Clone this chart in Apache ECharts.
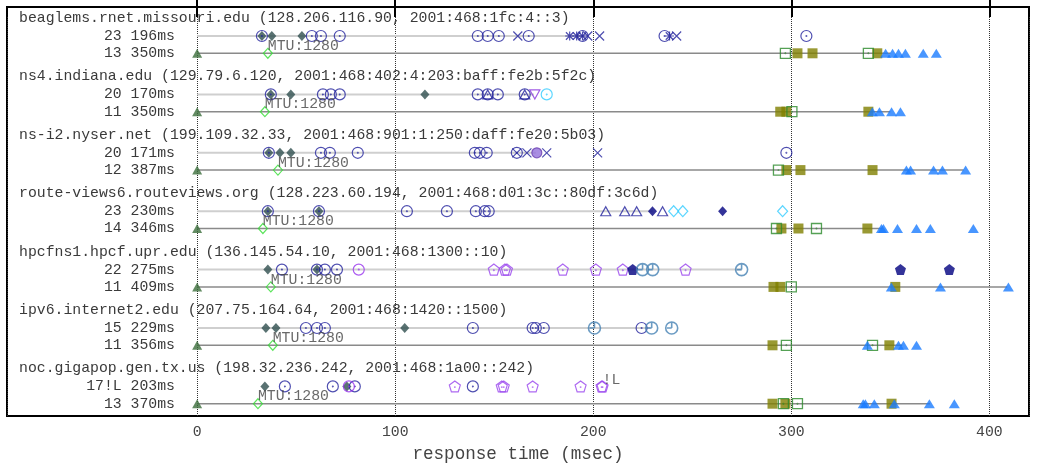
<!DOCTYPE html>
<html>
<head>
<meta charset="utf-8">
<script src="https://cdn.jsdelivr.net/npm/echarts@6/dist/echarts.min.js"></script>
<style>
html, body { margin: 0; padding: 0; background: #fff; }
#main { width: 1052px; height: 464px; }
</style>
</head>
<body>
<div id="main"></div>
<script>
/* hosts and per-row labels (row 2h = ipv4 trace, row 2h+1 = ipv6 trace) */
var hosts = [
	'beaglems.rnet.missouri.edu (128.206.116.90, 2001:468:1fc:4::3)',
	'ns4.indiana.edu (129.79.6.120, 2001:468:402:4:203:baff:fe2b:5f2c)',
	'ns-i2.nyser.net (199.109.32.33, 2001:468:901:1:250:daff:fe20:5b03)',
	'route-views6.routeviews.org (128.223.60.194, 2001:468:d01:3c::80df:3c6d)',
	'hpcfns1.hpcf.upr.edu (136.145.54.10, 2001:468:1300::10)',
	'ipv6.internet2.edu (207.75.164.64, 2001:468:1420::1500)',
	'noc.gigapop.gen.tx.us (198.32.236.242, 2001:468:1a00::242)'
];
var hopLabels = ['23 196ms', '13 350ms', '20 170ms', '11 350ms', '20 171ms', '12 387ms', '23 230ms',
	'14 346ms', '22 275ms', '11 409ms', '15 229ms', '11 356ms', '17!L 203ms', '13 370ms'];
var totals = [196, 350, 170, 350, 171, 387, 230, 346, 275, 409, 229, 356, 203, 370];

/* hop marks: [ms, row] */
var rings = [[32.7,0],[57.9,0],[62.5,0],[72.0,0],[141.7,0],[146.7,0],[152.3,0],[167.4,0],[194.6,0],[236.0,0],[307.6,0],
	[37.2,2],[63.5,2],[67.5,2],[72.0,2],[141.7,2],[146.7,2],[151.8,2],[165.4,2],
	[36.2,4],[62.5,4],[67.0,4],[81.1,4],[140.2,4],[142.7,4],[146.2,4],[161.4,4],[297.5,4],
	[35.7,6],[61.5,6],[105.9,6],[126.1,6],[140.7,6],[145.2,6],[147.2,6],
	[42.8,8],[60.5,8],[64.5,8],[70.6,8],
	[54.9,10],[60.5,10],[64.5,10],[139.2,10],[169.4,10],[171.0,10],[175.0,10],[224.4,10],
	[44.3,12],[68.5,12],[79.6,12],[139.2,12]];
var slateDiamonds = [[32.7,0],[37.7,0],[52.9,0],[37.2,2],[47.3,2],[115.0,2],[36.2,4],[41.8,4],[47.3,4],
	[35.7,6],[61.5,6],[35.7,8],[60.5,8],[34.7,10],[39.8,10],[104.8,10],[34.2,12],[75.6,12]];
var crosses = [[161.9,0],[197.2,0],[203.2,0],[242.1,0],[161.4,4],[166.5,4],[176.5,4],[202.2,4]];
var stars = [[188.1,0],[191.6,0],[194.6,0],[238.5,0]];
var navyTriangles = [[146.7,2],[165.4,2],[206.3,6],[215.9,6],[221.9,6],[235.0,6]];
var navyDiamonds = [[229.9,6],[265.3,6]];
var cyanDiamonds = [[240.6,6],[245.2,6],[295.6,6]];
var cyanRings = [[176.5,2]];
var purpleDown = [[170.5,2]];
var purpleDots = [[171.5,4]];
var purpleRings = [[81.6,8],[76.6,12]];
var pentagons = [[149.8,8],[155.4,8],[156.4,8],[184.6,8],[201.3,8],[214.9,8],[246.6,8],
	[130.1,12],[153.8,12],[154.8,12],[169.4,12],[193.6,12],[204.2,12],[204.7,12]];
var navyPentagons = [[219.9,8],[355.1,8],[379.8,8]];
var clocks = [[224.9,8],[230.0,8],[274.9,8],[200.6,10],[229.5,10],[239.6,10]];
var startMarks = [[0,1],[0,3],[0,5],[0,7],[0,9],[0,11],[0,13]];
var mtuDiamonds = [[35.7,1],[34.2,3],[40.8,5],[33.2,7],[37.2,9],[38.2,11],[30.7,13]];
var oliveSquares = [[303.1,1],[310.7,1],[343.4,1],[294.4,3],[297.5,3],[338.9,3],[297.5,5],[304.6,5],[341.0,5],
	[295.0,7],[303.6,7],[338.4,7],[291.0,9],[294.5,9],[352.5,9],[290.5,11],[349.5,11],[290.5,13],[297.0,13],[350.6,13]];
var greenSquares = [[297.0,1],[338.9,1],[300.3,3],[293.5,5],[292.5,7],[312.7,7],[300.0,9],[297.5,11],[341.0,11],[296.0,13],[303.1,13]];
var blueTriangles = [[347.6,1],[351.1,1],[354.1,1],[357.6,1],[366.6,1],[373.2,1],
	[340.9,3],[344.5,3],[350.6,3],[355.1,3],
	[358.1,5],[360.2,5],[371.8,5],[376.3,5],[388.0,5],
	[345.5,7],[346.5,7],[353.6,7],[363.2,7],[370.2,7],[391.9,7],
	[350.5,9],[375.3,9],[409.6,9],
	[338.4,11],[354.1,11],[356.6,11],[363.2,11],
	[336.3,13],[337.4,13],[341.9,13],[352.0,13],[369.7,13],[382.3,13]];
var notes = [[204.7,12,'!L']];

var MONO = '"Liberation Mono", "Courier New", monospace';
var TOP = 7;
function titleY(h) { return 11 + 58.4 * h; }
function rowY(r) { return titleY(Math.floor(r / 2)) + 18 + 17.3 * (r % 2); }
function pts(arr) { return arr.map(function(p) { return [p[0], rowY(p[1])]; }); }

var RING = 'path://M10,5A5,5,0,1,1,0,5A5,5,0,1,1,10,5ZM5.35,5A0.35,0.35,0,1,1,4.65,5A0.35,0.35,0,1,1,5.35,5Z';
var CLOCK = 'path://M10,5A5,5,0,1,1,0,5A5,5,0,1,1,10,5ZM5,5L5,0.3M5,5L1,5';
var PENTA = 'path://M5,0L10,3.8L8.1,10L1.9,10L0,3.8ZM5.3,5.6A0.3,0.3,0,1,1,4.7,5.6A0.3,0.3,0,1,1,5.3,5.6Z';
var PENTA_F = 'path://M5,0L10,3.8L8.1,10L1.9,10L0,3.8Z';
var CROSS = 'path://M0,0L10,10M0,10L10,0';
var STAR = 'path://M0,0L10,10M0,10L10,0M5,-1L5,11M-1,5L11,5';
var DOWN = 'path://M0,0L10,0L5,9Z';
var SQUARE = 'path://M0,0L10,0L10,10L0,10ZM5.3,5A0.3,0.3,0,1,1,4.7,5A0.3,0.3,0,1,1,5.3,5Z';

function open(arr, symbol, size, color, width) {
	return {
		type: 'scatter', data: pts(arr), symbol: symbol, symbolSize: size, z: 3, silent: true,
		itemStyle: { color: 'rgba(255,255,255,0)', borderColor: color, borderWidth: width || 1.2 }
	};
}
function filled(arr, symbol, size, color) {
	return {
		type: 'scatter', data: pts(arr), symbol: symbol, symbolSize: size, z: 3, silent: true,
		itemStyle: { color: color }
	};
}

var series = [];
/* row lines: ipv4 light, ipv6 darker; incomplete traces (!) get no line */
for (var r = 0; r < totals.length; r++) {
	if (hopLabels[r].indexOf('!') >= 0) continue;
	series.push({
		type: 'line', data: [[0, rowY(r)], [totals[r], rowY(r)]], symbol: 'none', z: 1, silent: true,
		lineStyle: { color: r % 2 ? '#8a8a8a' : '#cfcfcf', width: r % 2 ? 1.5 : 2 }
	});
}

series.push(filled(slateDiamonds, 'diamond', [9, 10], '#2f4f4f'));
series.push(open(rings, RING, 11, '#22229c'));
series.push(open(crosses, CROSS, 9, '#22229c'));
series.push(open(stars, STAR, 9, '#22229c'));
series.push(open(navyTriangles, 'triangle', [10, 9], '#22229c'));
series.push(filled(navyDiamonds, 'diamond', [9, 10], '#000080'));
series.push(open(cyanDiamonds, 'diamond', [10, 11], '#33ccff'));
series.push(open(cyanRings, RING, 11, '#33ccff'));
series.push(open(purpleDown, DOWN, [10, 9], '#8833dd'));
var pd = filled(purpleDots, 'circle', 10, '#9370db');
pd.itemStyle.borderColor = '#6a3fb0'; pd.itemStyle.borderWidth = 1.2;
series.push(pd);
series.push(open(purpleRings, RING, 11, '#9933ee'));
series.push(open(pentagons, PENTA, 11, '#9944ee'));
series.push(filled(navyPentagons, PENTA_F, 11, '#000080'));
series.push(open(clocks, CLOCK, 12, '#4682b4', 1.6));

series.push(filled(startMarks, 'triangle', [10, 9], '#3b6e3b'));
var mtu = open(mtuDiamonds, 'diamond', [9, 10], '#33dd33');
mtu.label = {
	show: true, formatter: 'MTU:1280', position: [5, -9], align: 'left', verticalAlign: 'top',
	fontFamily: MONO, fontSize: 14.8, color: '#444'
};
series.push(mtu);
series.push(filled(oliveSquares, 'rect', 10, '#808000'));
series.push(open(greenSquares, SQUARE, 10, '#2a8a2a', 1.3));
series.push(filled(blueTriangles, 'triangle', [11, 9], '#1a7cff'));
/* trace flags such as !L, written just above the last hop */
series.push({
	type: 'scatter', data: notes.map(function(n) { return [n[0], rowY(n[1])]; }), symbol: 'circle', symbolSize: 2,
	silent: true, z: 4, itemStyle: { color: 'rgba(255,255,255,0)' },
	label: {
		show: true, position: [1, -13], align: 'left', verticalAlign: 'top',
		formatter: function(p) { return notes[p.dataIndex][2]; },
		fontFamily: MONO, fontSize: 14.8, color: '#444'
	}
});

/* texts on the left */
var graphics = [];
for (var h = 0; h < hosts.length; h++) {
	graphics.push({
		type: 'text', x: 19, y: TOP + titleY(h), z: 10,
		style: { text: hosts[h], font: '14.8px ' + MONO, fill: '#3a3a3a',
			align: 'left', textAlign: 'left', verticalAlign: 'middle', textVerticalAlign: 'middle' }
	});
}
for (var k = 0; k < hopLabels.length; k++) {
	graphics.push({
		type: 'text', x: 175, y: TOP + rowY(k), z: 10,
		style: { text: hopLabels[k], font: '14.8px ' + MONO, fill: '#3a3a3a',
			align: 'right', textAlign: 'right', verticalAlign: 'middle', textVerticalAlign: 'middle' }
	});
}

var tickStyle = { show: true, inside: true, length: 10, lineStyle: { color: '#000', width: 2 } };

var myChart = echarts.init(document.getElementById('main'));
myChart.setOption({
	animation: false,
	backgroundColor: '#fff',
	grid: { left: 7, right: 23, top: TOP, bottom: 48, containLabel: false, outerBoundsMode: 'none',
		show: true, borderColor: '#000', borderWidth: 2, backgroundColor: 'transparent' },
	xAxis: [{
		type: 'value', position: 'bottom', min: -96, max: 420,
		axisLine: { show: false },
		axisTick: tickStyle,
		axisLabel: { showMinLabel: false, showMaxLabel: false, fontFamily: MONO, fontSize: 14.8, color: '#444', margin: 9 },
		splitLine: { show: true, lineStyle: { type: 'dotted', color: '#333', width: 1 } },
		name: 'response time (msec)', nameLocation: 'middle', nameGap: 28,
		nameTextStyle: { fontFamily: MONO, fontSize: 17.6, color: '#444' }
	}, {
		type: 'value', position: 'top', min: -96, max: 420,
		axisLine: { show: false }, axisTick: tickStyle,
		axisLabel: { show: false }, splitLine: { show: false }
	}],
	yAxis: { type: 'value', min: 0, max: 409, inverse: true, show: false },
	graphic: graphics,
	series: series
});
</script>
</body>
</html>
